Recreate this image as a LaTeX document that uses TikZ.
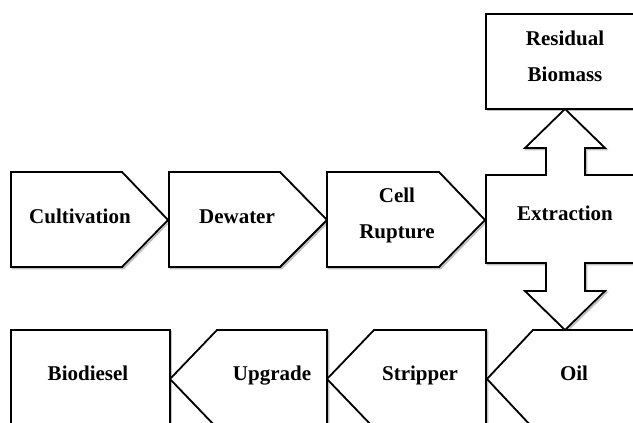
\documentclass[tikz,border=0pt]{standalone}
\usepackage{fontspec}
\setmainfont{Liberation Serif}
\begin{document}
\begin{tikzpicture}[x=1pt,y=-1pt,
  blockshape/.style={draw=black,fill=white,line width=1.8pt,line join=miter},
  shadeline/.style={draw=black!25,line width=1.8pt,shift={(1.5,1.5)}},
  lbl/.style={font=\fontsize{21}{36}\selectfont\bfseries,align=center,inner sep=0pt},
  lblb/.style={lbl,anchor=base}]
\useasboundingbox (0,0) rectangle (633,423);
\clip (0,0) rectangle (633,423);
% outlines
\def\cult{(11,172) -- (122,172) -- (168,220) -- (122,267) -- (11,267) -- cycle}
\def\dew{(169,172) -- (280,172) -- (327,220) -- (280,267) -- (169,267) -- cycle}
\def\cell{(327,172) -- (439,172) -- (485,220) -- (439,267) -- (327,267) -- cycle}
\def\extr{(486,175) -- (546,175) -- (546,148) -- (525,148) -- (565,109) -- (605,148) -- (585,148) -- (585,175) -- (646,175) -- (646,263) -- (585,263) -- (585,291) -- (605,291) -- (565,330) -- (525,291) -- (546,291) -- (546,263) -- (486,263) -- cycle}
\def\resid{(486,14) rectangle (646,109)}
\def\oil{(533,330) -- (646,330) -- (646,428) -- (533,428) -- (487,379) -- cycle}
\def\strip{(374,330) -- (486,330) -- (486,428) -- (374,428) -- (327,379) -- cycle}
\def\upg{(217,330) -- (327,330) -- (327,428) -- (217,428) -- (170,379) -- cycle}
\def\biod{(11,330) rectangle (170,428)}
% shadows
\draw[shadeline] \cult;
\draw[shadeline] \dew;
\draw[shadeline] \cell;
\draw[shadeline] \extr;
\draw[shadeline] \resid;
\draw[shadeline] \oil;
\draw[shadeline] \strip;
\draw[shadeline] \upg;
\draw[shadeline] \biod;
% shapes
\path[blockshape] \cult;
\path[blockshape] \dew;
\path[blockshape] \cell;
\path[blockshape] \extr;
\path[blockshape] \resid;
\path[blockshape] \oil;
\path[blockshape] \strip;
\path[blockshape] \upg;
\path[blockshape] \biod;
% labels
\node[lblb] (cultivation) at (80,223) {Cultivation};
\node[lblb] (dewater) at (237,223) {Dewater};
\node[lbl] (cellrupture) at (397,215) {Cell\\Rupture};
\node[lblb] (extraction) at (565,220) {Extraction};
\node[lbl] (residual) at (565,56) {Residual\\Biomass};
\node[lblb] (oil) at (574,380) {Oil};
\node[lblb] (stripper) at (420,380) {Stripper};
\node[lblb] (upgrade) at (272,380) {Upgrade};
\node[lblb] (biodiesel) at (88,380) {Biodiesel};
\end{tikzpicture}
\end{document}
